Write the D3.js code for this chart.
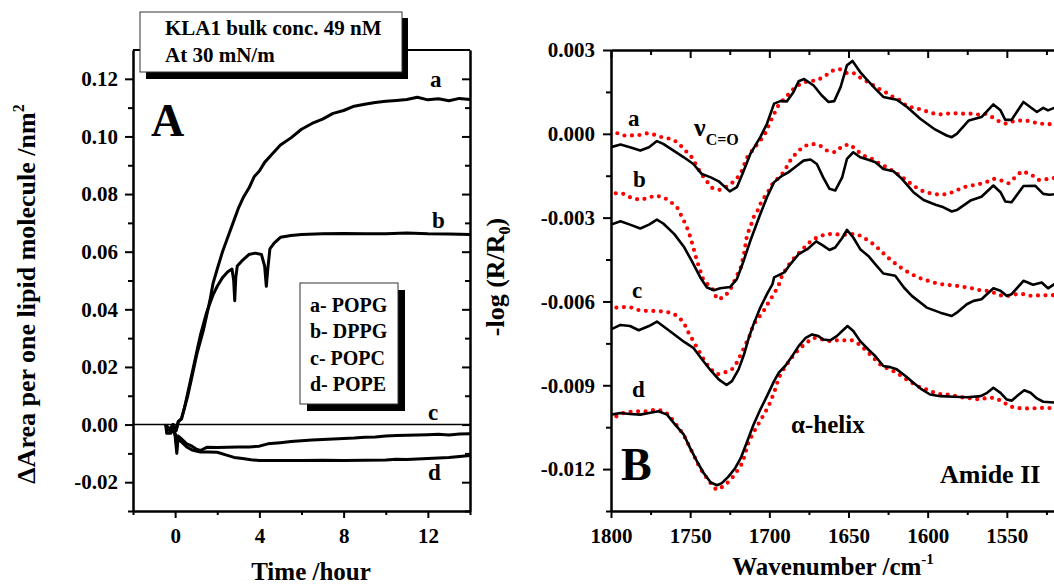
<!DOCTYPE html>
<html>
<head>
<meta charset="utf-8">
<script src="https://cdn.jsdelivr.net/npm/d3@7"></script>
<style>
  html, body { margin: 0; padding: 0; background: #fff; }
  svg { display: block; font-family: 'Liberation Serif', 'Times New Roman', serif; font-weight: bold; }
</style>
</head>
<body>
<div id="chart"></div>
<script>
/* ---------- Panel A data: time /hour, dArea /nm2 ---------- */
const popg = [[-0.45,0.000],[-0.35,-0.001],[-0.25,-0.002],[-0.1,0.000],[0.05,-0.002],[0.15,0.001],[0.3,0.002],[0.45,0.006],[0.6,0.010],[0.75,0.015],[0.9,0.020],[1.05,0.025],[1.2,0.029],[1.35,0.033],[1.5,0.038],[1.65,0.043],[1.8,0.049],[2.0,0.054],[2.25,0.060],[2.5,0.065],[2.75,0.070],[3.0,0.075],[3.25,0.079],[3.5,0.082],[3.75,0.086],[4.0,0.088],[4.25,0.091],[4.5,0.093],[4.75,0.095],[5.0,0.097],[5.5,0.0995],[6.0,0.1025],[6.5,0.1045],[7.0,0.106],[7.5,0.108],[8.0,0.109],[8.5,0.1105],[9.0,0.1112],[9.5,0.1118],[10.0,0.1122],[10.5,0.1125],[11.0,0.1128],[11.5,0.1136],[12.0,0.1127],[12.5,0.1131],[13.0,0.1124],[13.5,0.1132],[14.0,0.1128]];
const dppg = [[-0.45,0.000],[-0.35,-0.001],[-0.25,-0.002],[-0.1,0.000],[0.05,-0.002],[0.15,0.001],[0.3,0.002],[0.45,0.006],[0.6,0.011],[0.75,0.016],[0.9,0.021],[1.05,0.026],[1.2,0.031],[1.35,0.035],[1.5,0.039],[1.65,0.042],[1.8,0.045],[2.0,0.048],[2.25,0.051],[2.5,0.053],[2.7,0.054],[2.78,0.050],[2.83,0.043],[2.88,0.051],[2.95,0.055],[3.2,0.057],[3.5,0.059],[3.8,0.0595],[4.1,0.059],[4.25,0.055],[4.33,0.048],[4.4,0.054],[4.5,0.061],[4.7,0.063],[5.0,0.065],[5.5,0.0656],[6.0,0.066],[7.0,0.0662],[8.0,0.0663],[9.0,0.0662],[10.0,0.0662],[11.0,0.0665],[12.0,0.0662],[13.0,0.0661],[14.0,0.066]];
const popc = [[-0.45,0.000],[-0.4,-0.003],[-0.2,-0.003],[-0.1,-0.001],[0.0,-0.004],[0.08,-0.010],[0.15,-0.004],[0.3,-0.005],[0.55,-0.0067],[0.8,-0.0075],[1.0,-0.0085],[1.2,-0.009],[1.5,-0.0079],[2.0,-0.008],[2.5,-0.0079],[3.0,-0.0078],[3.5,-0.0078],[4.0,-0.0075],[4.4,-0.0067],[5.0,-0.0063],[5.5,-0.0059],[6.0,-0.0056],[6.5,-0.0054],[7.0,-0.0052],[7.5,-0.005],[8.0,-0.0048],[8.5,-0.0047],[9.0,-0.0044],[9.5,-0.0043],[10.0,-0.004],[10.5,-0.0038],[11.0,-0.0037],[11.5,-0.0036],[12.0,-0.0035],[12.5,-0.0034],[13.0,-0.0036],[13.5,-0.0033],[14.0,-0.0032]];
const pope = [[-0.45,0.000],[-0.35,-0.002],[-0.2,-0.001],[0.0,-0.003],[0.1,-0.005],[0.3,-0.006],[0.55,-0.0078],[0.8,-0.0088],[1.2,-0.0095],[1.6,-0.0095],[2.0,-0.0096],[2.4,-0.0105],[2.8,-0.0114],[3.2,-0.0118],[3.6,-0.0122],[4.0,-0.0125],[5.0,-0.0125],[6.0,-0.0125],[7.0,-0.0124],[8.0,-0.0125],[9.0,-0.0124],[10.0,-0.0123],[10.5,-0.0120],[11.0,-0.0121],[12.0,-0.0118],[13.0,-0.0114],[14.0,-0.0107]];

/* ---------- Panel B data: wavenumber, -log(R/R0) in units of 1e-3 ---------- */
const specA = [[1800,-0.48],[1794,-0.38],[1788,-0.48],[1781.5,-0.60],[1776,-0.48],[1771,-0.26],[1767,-0.36],[1760,-0.62],[1754,-0.84],[1748,-1.08],[1742.6,-1.44],[1737,-1.56],[1732,-1.70],[1725,-2.06],[1720.5,-1.91],[1717,-1.44],[1712,-0.72],[1705.7,-0.12],[1701.5,0.36],[1697,1.08],[1693,1.17],[1689,1.16],[1684.7,1.50],[1681.5,1.88],[1678,1.96],[1672,1.73],[1667,1.38],[1662.6,1.14],[1659,1.17],[1655,1.67],[1651,2.45],[1647.5,2.61],[1642.6,2.21],[1638.4,1.94],[1633,1.61],[1628,1.32],[1619.5,1.22],[1613,0.96],[1604.7,0.54],[1596,0.18],[1588,-0.06],[1584.8,-0.12],[1581.6,0.00],[1574,0.48],[1566,0.60],[1558.5,1.05],[1554,0.84],[1551,0.50],[1547,0.50],[1539.5,1.14],[1531,0.78],[1527,0.93],[1524,0.84],[1520,0.93],[1515,0.80]];
const specAfit = [[1796,0.02],[1792,-0.06],[1787,-0.06],[1781.5,-0.04],[1777,0.02],[1772,-0.04],[1768,-0.12],[1762.5,-0.18],[1758,-0.30],[1754,-0.54],[1749,-0.84],[1743.6,-1.38],[1740,-1.67],[1736,-1.94],[1731,-2.01],[1727,-1.89],[1721.5,-1.67],[1718,-1.41],[1714,-0.84],[1710,-0.54],[1705.7,-0.24],[1702.6,0.02],[1698,0.60],[1694,1.05],[1689,1.34],[1684,1.65],[1679.4,1.82],[1674.6,1.89],[1670,1.91],[1665,2.06],[1660.5,2.25],[1655.7,2.32],[1651.5,2.18],[1647,2.18],[1641.6,1.97],[1636.7,1.82],[1632,1.65],[1627,1.50],[1622,1.32],[1617.4,1.20],[1613,0.98],[1608,0.93],[1602.6,0.84],[1597.4,0.74],[1593,0.69],[1588,0.72],[1583.7,0.74],[1578.5,0.72],[1573,0.72],[1568,0.69],[1563.7,0.72],[1560,0.62],[1555,0.45],[1550.5,0.36],[1546,0.45],[1540.6,0.48],[1535,0.45],[1530,0.36],[1524,0.36],[1520,0.30],[1515,0.28]];
const specB = [[1800,-3.25],[1794,-3.13],[1788,-3.25],[1781.5,-3.39],[1776,-3.25],[1771,-3.07],[1767,-3.21],[1760,-3.59],[1754,-4.04],[1749,-4.55],[1743.6,-5.14],[1739.4,-5.50],[1735,-5.60],[1731,-5.53],[1724.7,-5.48],[1720.5,-5.20],[1717,-4.67],[1712,-3.83],[1705.7,-2.87],[1701.5,-2.27],[1697,-1.73],[1692,-1.50],[1688,-1.38],[1682.6,-1.14],[1678.4,-0.96],[1674,-0.92],[1670,-1.08],[1666,-1.56],[1662,-1.97],[1658.4,-2.03],[1654,-1.56],[1651,-0.90],[1647,-0.66],[1642.6,-0.84],[1637.5,-0.93],[1633,-1.02],[1628,-1.26],[1621.6,-1.34],[1616.3,-1.61],[1609,-2.09],[1602.6,-2.37],[1595,-2.54],[1590,-2.63],[1584.8,-2.78],[1581.6,-2.73],[1573,-2.39],[1566,-2.25],[1558.5,-1.85],[1554,-2.09],[1551,-2.42],[1547,-2.45],[1539.5,-1.87],[1532,-1.86],[1527,-2.15],[1523,-2.18],[1520,-2.16],[1515,-2.05]];
const specBfit = [[1797,-2.13],[1792,-2.15],[1787,-2.30],[1781.5,-2.36],[1777,-2.30],[1772,-2.21],[1767,-2.27],[1762.5,-2.42],[1758,-2.66],[1754,-3.11],[1751,-3.49],[1748,-4.07],[1745.7,-4.55],[1743.6,-4.90],[1741.5,-5.26],[1736,-5.53],[1733,-5.92],[1729,-5.86],[1725,-5.62],[1718,-4.78],[1716,-4.31],[1714,-3.59],[1712,-3.35],[1710,-2.99],[1707.4,-2.75],[1704.7,-2.39],[1701.5,-2.15],[1698,-1.79],[1694,-1.56],[1691,-1.38],[1686.8,-0.96],[1682.6,-0.66],[1678,-0.44],[1673,-0.36],[1668,-0.42],[1663.6,-0.60],[1658.4,-0.66],[1653.5,-0.42],[1649,-0.38],[1644.7,-0.60],[1640.5,-0.78],[1635,-0.90],[1630,-1.08],[1625.8,-1.20],[1620.5,-1.38],[1615.7,-1.56],[1611,-1.77],[1606,-1.97],[1601.6,-2.09],[1596.4,-2.15],[1591.7,-2.18],[1587,-2.15],[1582,-2.03],[1577.4,-1.91],[1572,-1.85],[1567,-1.79],[1563,-1.73],[1558.5,-1.61],[1553.6,-1.67],[1549,-1.77],[1544.8,-1.56],[1540.6,-1.34],[1535,-1.44],[1530,-1.65],[1524,-1.62],[1520,-1.58],[1515,-1.55]];
const specC = [[1800,-7.00],[1794,-6.84],[1788,-6.88],[1782.5,-7.03],[1776,-6.88],[1771,-6.72],[1765.7,-6.94],[1760,-7.18],[1754,-7.44],[1748,-7.66],[1742.6,-8.07],[1737,-8.47],[1732,-8.79],[1727,-8.99],[1723.6,-8.85],[1719.4,-8.43],[1716,-7.90],[1713,-7.30],[1710,-6.82],[1705.7,-6.22],[1701.5,-5.74],[1698,-5.38],[1697,-5.14],[1690.5,-4.96],[1686.8,-4.67],[1681.5,-4.31],[1676,-4.13],[1670.4,-3.85],[1666,-4.00],[1662,-4.16],[1658.4,-4.07],[1654,-3.73],[1651,-3.44],[1647,-3.71],[1642.6,-4.13],[1637.5,-4.37],[1633,-4.67],[1628,-5.00],[1620.5,-5.08],[1615,-5.50],[1610,-5.80],[1600.6,-6.22],[1592,-6.40],[1584.8,-6.52],[1581.6,-6.40],[1575.3,-6.10],[1571,-5.98],[1566,-5.92],[1558.5,-5.53],[1554,-5.62],[1550,-5.80],[1547,-5.74],[1539.5,-5.26],[1533.4,-5.40],[1528,-5.32],[1524,-5.53],[1520,-5.38],[1515,-5.30]];
const specCfit = [[1796.6,-6.22],[1792,-6.20],[1787,-6.22],[1782,-6.32],[1777,-6.34],[1772,-6.34],[1767,-6.36],[1762.5,-6.40],[1758,-6.52],[1754,-6.76],[1751,-7.12],[1748,-7.42],[1744.7,-7.75],[1741.5,-8.07],[1737.6,-8.40],[1733,-8.61],[1728.4,-8.55],[1723.6,-8.43],[1720.5,-8.19],[1717,-7.78],[1714,-7.42],[1712,-7.18],[1710,-6.82],[1706.8,-6.58],[1703.6,-6.34],[1700.5,-6.04],[1697,-5.72],[1694,-5.41],[1693,-5.20],[1689,-4.78],[1684,-4.43],[1679,-4.13],[1674,-3.85],[1669,-3.68],[1664,-3.59],[1659,-3.59],[1654,-3.62],[1649.5,-3.59],[1644.7,-3.59],[1640.5,-3.71],[1635,-3.92],[1630,-4.16],[1625.8,-4.40],[1620.5,-4.64],[1615.7,-4.84],[1611,-5.00],[1606,-5.14],[1601,-5.24],[1596.4,-5.32],[1591.7,-5.38],[1587,-5.41],[1582,-5.44],[1577.4,-5.48],[1572,-5.53],[1567,-5.60],[1562.7,-5.62],[1558.5,-5.68],[1553,-5.80],[1548.4,-5.80],[1544,-5.74],[1539.5,-5.74],[1534.7,-5.80],[1529.4,-5.78],[1522,-5.78],[1515,-5.76]];
const specD = [[1800,-10.05],[1794,-9.99],[1788,-10.03],[1781.5,-10.05],[1776,-9.99],[1770,-9.93],[1764.6,-10.05],[1759.5,-10.41],[1754,-10.77],[1750,-11.25],[1745.7,-11.72],[1741.5,-12.14],[1737,-12.48],[1733,-12.58],[1730,-12.50],[1725.7,-12.26],[1721.5,-11.96],[1718,-11.60],[1714,-11.01],[1710,-10.41],[1705.7,-9.87],[1701.5,-9.39],[1697,-8.85],[1694,-8.55],[1690,-8.31],[1685.6,-7.96],[1681.5,-7.60],[1677,-7.30],[1673,-7.18],[1669,-7.24],[1666,-7.36],[1661.6,-7.39],[1657.4,-7.24],[1654,-7.06],[1650.6,-6.88],[1647,-7.06],[1642.6,-7.42],[1637.5,-7.72],[1633,-7.96],[1628,-8.31],[1623.7,-8.35],[1619.5,-8.43],[1614,-8.67],[1609,-8.91],[1603.7,-9.15],[1598.5,-9.33],[1592,-9.39],[1583.7,-9.41],[1575,-9.43],[1566.6,-9.39],[1562.4,-9.27],[1558.5,-9.09],[1554,-9.27],[1550,-9.51],[1547,-9.55],[1542.4,-9.33],[1539,-9.18],[1535,-9.27],[1531,-9.47],[1527,-9.59],[1520,-9.62],[1515,-9.60]];
const specDfit = [[1796.6,-10.11],[1792,-9.99],[1787,-9.95],[1782,-9.93],[1777,-9.93],[1772.4,-9.87],[1767.6,-9.91],[1763.6,-10.05],[1759.5,-10.35],[1754,-10.79],[1751,-11.13],[1748,-11.48],[1743.6,-11.99],[1738,-12.44],[1733.5,-12.74],[1729,-12.62],[1724.3,-12.38],[1720.5,-12.08],[1717,-11.78],[1713,-11.01],[1709,-10.59],[1704.7,-10.17],[1700.5,-9.75],[1697,-9.27],[1694,-8.73],[1691,-8.43],[1686.3,-8.04],[1681.5,-7.72],[1676.6,-7.48],[1672,-7.30],[1666.7,-7.36],[1661.8,-7.42],[1657,-7.39],[1652.7,-7.39],[1648,-7.39],[1643,-7.54],[1638.4,-7.78],[1633.8,-8.04],[1629,-8.31],[1624,-8.43],[1619.5,-8.55],[1615,-8.73],[1610,-8.91],[1605,-9.07],[1600.6,-9.15],[1595.7,-9.27],[1591,-9.33],[1586,-9.33],[1581.6,-9.39],[1576.8,-9.45],[1572,-9.47],[1567,-9.51],[1562.7,-9.45],[1558,-9.45],[1553,-9.57],[1548.4,-9.75],[1544,-9.81],[1539.5,-9.83],[1534.7,-9.83],[1529.4,-9.81],[1520,-9.82],[1515,-9.82]];

/* ---------- Ticks ---------- */
const ticksAx = [0, 4, 8, 12];
const minorAx = [-2, 2, 6, 10, 14];
const ticksAy = [-0.02, 0.00, 0.02, 0.04, 0.06, 0.08, 0.10, 0.12];
const minorAy = [-0.03, -0.01, 0.01, 0.03, 0.05, 0.07, 0.09, 0.11];
const ticksBx = [1800, 1750, 1700, 1650, 1600, 1550];
const minorBx = [1775, 1725, 1675, 1625, 1575, 1525];
const ticksBy = [-0.012, -0.009, -0.006, -0.003, 0.000, 0.003];
const minorBy = [-0.0135, -0.0105, -0.0075, -0.0045, -0.0015, 0.0015];

const legendLines = ['a- POPG', 'b- DPPG', 'c- POPC', 'd- POPE'];

(function () {
  'use strict';

  const W = 1054, H = 584;
  const svg = d3.select('#chart').append('svg').attr('width', W).attr('height', H);

  const A = { l: 133, r: 470, t: 50, b: 511 };
  const B = { l: 611, r: 1086, t: 50, b: 511 };

  const xA = d3.scaleLinear([-2, 14], [A.l, A.r]);
  const yA = d3.scaleLinear([-0.03, 0.13], [A.b, A.t]);
  const xB = d3.scaleLinear([1800, 1500], [B.l, B.r]);
  const yB = d3.scaleLinear([-0.0135, 0.003], [B.b, B.t]);

  const tickFont = 21;

  function styleAxis(g, showText) {
    g.select('.domain').attr('stroke', '#000').attr('stroke-width', 2);
    g.selectAll('.tick line').attr('stroke', '#000').attr('stroke-width', 2);
    g.selectAll('.tick text')
      .attr('fill', '#000')
      .attr('font-size', tickFont)
      .attr('font-family', "'Liberation Serif', serif")
      .attr('font-weight', 'bold')
      .style('display', showText ? null : 'none');
  }

  function frame(P, x, y, o) {
    // major / minor, outward on left and bottom
    svg.append('g').attr('transform', `translate(0,${P.b})`)
      .call(d3.axisBottom(x).tickValues(o.minX).tickSizeInner(4).tickSizeOuter(0).tickFormat(''))
      .call(g => styleAxis(g, false));
    svg.append('g').attr('transform', `translate(0,${P.b})`)
      .call(d3.axisBottom(x).tickValues(o.majX).tickSizeInner(7).tickSizeOuter(0).tickPadding(10).tickFormat(o.fx))
      .call(g => styleAxis(g, true));
    svg.append('g').attr('transform', `translate(${P.l},0)`)
      .call(d3.axisLeft(y).tickValues(o.minY).tickSizeInner(5).tickSizeOuter(0).tickFormat(''))
      .call(g => styleAxis(g, false));
    svg.append('g').attr('transform', `translate(${P.l},0)`)
      .call(d3.axisLeft(y).tickValues(o.majY).tickSizeInner(8).tickSizeOuter(0).tickPadding(o.padY).tickFormat(o.fy))
      .call(g => styleAxis(g, true));
  }

  /* ---------- Panel A ---------- */
  frame(A, xA, yA, {
    majX: ticksAx, minX: minorAx, majY: ticksAy, minY: minorAy,
    fx: d => String(d), fy: d => d.toFixed(2), padY: 7
  });
  // right axis with inward ticks
  svg.append('g').attr('transform', `translate(${A.r},0)`)
    .call(d3.axisRight(yA).tickValues(ticksAy).tickSizeInner(-8).tickSizeOuter(0).tickFormat(''))
    .call(g => styleAxis(g, false));
  svg.append('g').attr('transform', `translate(${A.r},0)`)
    .call(d3.axisRight(yA).tickValues(minorAy).tickSizeInner(-5).tickSizeOuter(0).tickFormat(''))
    .call(g => styleAxis(g, false));
  svg.append('line')
    .attr('x1', A.l).attr('x2', A.r).attr('y1', A.t).attr('y2', A.t)
    .attr('stroke', '#000').attr('stroke-width', 2);

  // zero line
  svg.append('line')
    .attr('x1', A.l).attr('x2', A.r).attr('y1', yA(0)).attr('y2', yA(0))
    .attr('stroke', '#000').attr('stroke-width', 1.5);

  const lineA = d3.line().x(d => xA(d[0])).y(d => yA(d[1]));
  [popg, dppg, popc, pope].forEach(s => {
    svg.append('path').datum(s)
      .attr('d', lineA)
      .attr('fill', 'none')
      .attr('stroke', '#000')
      .attr('stroke-width', 3)
      .attr('stroke-linejoin', 'round');
  });

  const txt = (x, y, s, size, anchor) => svg.append('text')
    .attr('x', x).attr('y', y)
    .attr('font-size', size)
    .attr('text-anchor', anchor || 'start')
    .attr('fill', '#000')
    .text(s);

  txt(430, 87, 'a', 23);
  txt(432, 228, 'b', 23);
  txt(428, 420, 'c', 23);
  txt(428, 480, 'd', 23);
  txt(151, 136, 'A', 46);

  // info box
  svg.append('rect').attr('x', 146).attr('y', 18).attr('width', 262).attr('height', 61).attr('fill', '#000');
  svg.append('rect').attr('x', 140).attr('y', 12).attr('width', 262).attr('height', 60)
    .attr('fill', '#fff').attr('stroke', '#333').attr('stroke-width', 1);
  txt(165, 35, 'KLA1 bulk conc. 49 nM', 21);
  txt(165, 62, 'At 30 mN/m', 21);

  // legend box
  svg.append('rect').attr('x', 307).attr('y', 290).attr('width', 98).attr('height', 121).attr('fill', '#000');
  svg.append('rect').attr('x', 300).attr('y', 283).attr('width', 98).attr('height', 121)
    .attr('fill', '#fff').attr('stroke', '#333').attr('stroke-width', 1);
  legendLines.forEach((s, i) => txt(310, 312 + i * 26.3, s, 20));

  // axis titles A
  txt(311, 580, 'Time /hour', 25, 'middle');
  const tyA = svg.append('text')
    .attr('transform', 'translate(35,294) rotate(-90)')
    .attr('text-anchor', 'middle').attr('font-size', 26).attr('fill', '#000');
  tyA.append('tspan').text('\u0394Area per one lipid molecule /nm');
  tyA.append('tspan').attr('font-size', 16).attr('dy', -11).text('2');

  /* ---------- Panel B ---------- */
  svg.append('defs').append('clipPath').attr('id', 'clipB')
    .append('rect').attr('x', B.l).attr('y', B.t - 10).attr('width', W - B.l).attr('height', B.b - B.t + 20);

  frame(B, xB, yB, {
    majX: ticksBx, minX: minorBx, majY: ticksBy, minY: minorBy,
    fx: d => String(d), fy: d => d.toFixed(3), padY: 8
  });
  svg.append('g').attr('transform', `translate(0,${B.t})`)
    .call(d3.axisTop(xB).tickValues(ticksBx).tickSizeInner(-8).tickSizeOuter(0).tickFormat(''))
    .call(g => styleAxis(g, false));
  svg.append('g').attr('transform', `translate(0,${B.t})`)
    .call(d3.axisTop(xB).tickValues(minorBx).tickSizeInner(-5).tickSizeOuter(0).tickFormat(''))
    .call(g => styleAxis(g, false));

  const lineB = d3.line().x(d => xB(d[0])).y(d => yB(d[1] * 1e-3));
  const plotB = svg.append('g').attr('clip-path', 'url(#clipB)');
  [specAfit, specBfit, specCfit, specDfit].forEach(s => {
    plotB.append('path').datum(s)
      .attr('d', lineB)
      .attr('fill', 'none')
      .attr('stroke', '#ff0000')
      .attr('stroke-width', 4.2)
      .attr('stroke-linecap', 'round')
      .attr('stroke-dasharray', '0 7.5');
  });
  [specA, specB, specC, specD].forEach(s => {
    plotB.append('path').datum(s)
      .attr('d', lineB)
      .attr('fill', 'none')
      .attr('stroke', '#000')
      .attr('stroke-width', 2.6)
      .attr('stroke-linejoin', 'round');
  });

  txt(628, 126, 'a', 23);
  txt(633, 187, 'b', 23);
  txt(632, 298, 'c', 23);
  txt(632, 397, 'd', 23);
  txt(621, 480, 'B', 46);

  const nu = svg.append('text').attr('x', 694).attr('y', 136).attr('font-size', 26).attr('fill', '#000');
  nu.append('tspan').text('\u03BD');
  nu.append('tspan').attr('font-size', 16).attr('dy', 9).text('C=O');

  txt(791, 433, '\u03B1-helix', 25);
  txt(940, 483, 'Amide II', 26);

  const txB = svg.append('text').attr('x', 833).attr('y', 575)
    .attr('text-anchor', 'middle').attr('font-size', 25).attr('fill', '#000');
  txB.append('tspan').text('Wavenumber /cm');
  txB.append('tspan').attr('font-size', 15).attr('dy', -11).text('-1');

  const tyB = svg.append('text')
    .attr('transform', 'translate(504,277) rotate(-90)')
    .attr('text-anchor', 'middle').attr('font-size', 26).attr('fill', '#000');
  tyB.append('tspan').text('-log (R/R');
  tyB.append('tspan').attr('font-size', 16).attr('dy', 6).text('0');
  tyB.append('tspan').attr('dy', -6).text(')');
})();
</script>
</body>
</html>
